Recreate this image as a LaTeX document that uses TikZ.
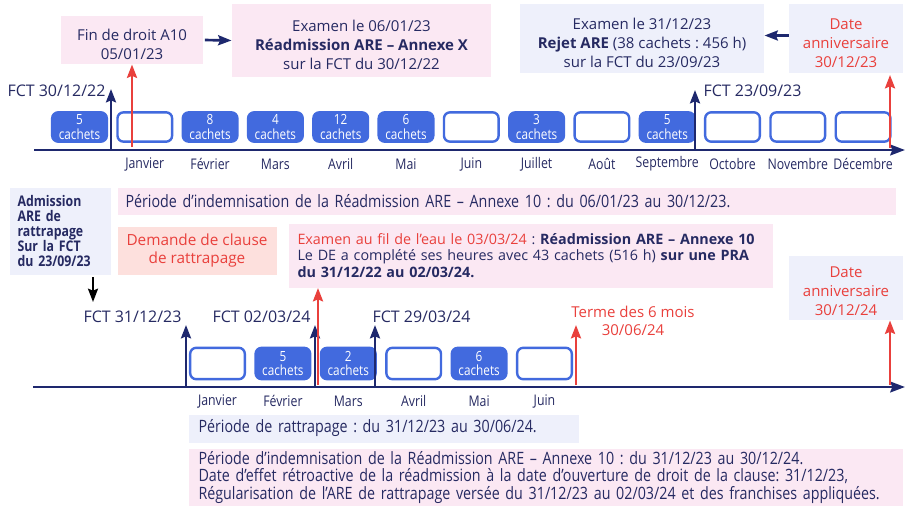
\documentclass[tikz,border=0pt]{standalone}
\usepackage{fontspec}
\setmainfont{Open Sans}
\newfontfamily\condfont{Open Sans}[FakeStretch=0.84]
\frenchspacing
\usetikzlibrary{arrows.meta}
\definecolor{txtnavy}{RGB}{38,42,98}
\definecolor{flechebleu}{RGB}{30,40,110}
\definecolor{boxblue}{RGB}{66,106,222}
\definecolor{fondrose}{RGB}{251,232,243}
\definecolor{fondlav}{RGB}{238,240,251}
\definecolor{rougec}{RGB}{233,64,60}
\definecolor{saumon}{RGB}{253,224,221}
\tikzset{every picture/.style={line width=0.75pt}}
\tikzset{
  cachet/.style={draw=boxblue, fill=boxblue, line width=1.8pt, rounded corners=4.5pt,
    minimum width=41pt, minimum height=22pt, inner sep=0pt, align=center, text=white,
    font=\condfont\fontsize{10.5}{11}\selectfont},
  vide/.style={cachet, fill=white},
  mois/.style={text=txtnavy, inner sep=0.75pt, font=\condfont\fontsize{11}{12}\selectfont},
  fct/.style={text=txtnavy, inner sep=0.75pt, font=\fontsize{12}{13}\selectfont},
  cadre/.style={inner sep=0pt, align=center, text=txtnavy, font=\fontsize{11.25}{14.25}\selectfont},
  boiterose/.style={cadre, fill=fondrose},
  boitelav/.style={cadre, fill=fondlav},
  bandeau/.style={inner ysep=0pt, align=left, text=txtnavy, font=\condfont\fontsize{12.75}{13.25}\selectfont},
  fleche/.style={draw=flechebleu, line width=2pt, -{Stealth[length=10pt,width=7.5pt,inset=1.5pt]}},
  flecherouge/.style={fleche, draw=rougec},
  flechenoire/.style={fleche, draw=black, line width=1.6pt},
  axe/.style={draw=flechebleu, line width=2.2pt, -{Stealth[length=11pt,width=8pt,inset=1.5pt]}}
}
\begin{document}
\begin{tikzpicture}[x=0.75pt,y=0.75pt,yscale=-1,xscale=1]
\useasboundingbox (0,0) rectangle (906,506);

%Straight Lines: axe 2023
\coordinate (axA0) at (34,150);
\coordinate (axA1) at (905,150);
\draw [axe] (axA0) -- (axA1);

%Shape: mois 2023
\node [cachet] (a0) at (79.5,127) {5\\cachets};
\node [vide] (a1) at (144.8,127) {};
\node [cachet] (a2) at (210.1,127) {8\\cachets};
\node [cachet] (a3) at (275.4,127) {4\\cachets};
\node [cachet] (a4) at (340.7,127) {12\\cachets};
\node [cachet] (a5) at (406,127) {6\\cachets};
\node [vide] (a6) at (471.3,127) {};
\node [cachet] (a7) at (536.6,127) {3\\cachets};
\node [vide] (a8) at (601.9,127) {};
\node [cachet] (a9) at (667.2,127) {5\\cachets};
\node [vide] (a10) at (732.5,127) {};
\node [vide] (a11) at (797.8,127) {};
\node [vide] (a12) at (863.1,127) {};

% Text Node: mois 2023
\node [mois] (la1) at (144.8,164) {Janvier};
\node [mois] (la2) at (210.1,164) {Février};
\node [mois] (la3) at (275.4,164) {Mars};
\node [mois] (la4) at (340.7,164) {Avril};
\node [mois] (la5) at (406,164) {Mai};
\node [mois] (la6) at (471.3,164) {Juin};
\node [mois] (la7) at (536.6,164) {Juillet};
\node [mois] (la8) at (601.9,164) {Août};
\node [mois] (la9) at (667.2,164) {Septembre};
\node [mois] (la10) at (732.5,164) {Octobre};
\node [mois] (la11) at (797.8,164) {Novembre};
\node [mois] (la12) at (863.1,164) {Décembre};

% Text Node: cadres du haut
\node [boiterose, minimum width=106.5pt, minimum height=36pt] (fin) at (132,40) {\rule{0pt}{15.5pt}Fin de droit A10\\05/01/23};
\node [boiterose, minimum width=194.25pt, minimum height=54.75pt] (exA) at (361.5,40.5) {\rule{0pt}{14.5pt}Examen le 06/01/23\\\textbf{Réadmission ARE – Annexe X}\\sur la FCT du 30/12/22};
\node [boitelav, minimum width=183pt, minimum height=51.75pt] (exB) at (642,38.5) {\rule{0pt}{15.5pt}Examen le 31/12/23\\\textbf{Rejet ARE} (38 cachets : 456 h)\\sur la FCT du 23/09/23};
\node [boitelav, text=rougec, minimum width=85.5pt, minimum height=51.75pt] (anA) at (846,38.5) {\rule{0pt}{15.5pt}Date\\anniversaire\\30/12/23};

%Straight Lines: fleches du haut
\draw [fleche, shorten <=1pt] (fin.east) -- (exA.west);
\draw [fleche] ([yshift=-2.25pt]anA.west) -- ([yshift=-2.25pt]exB.east);

\coordinate (fA0) at (111,150);
\coordinate (fA1) at (111,89);
\draw [fleche] (fA0) -- (fA1);
\node [fct, anchor=base east] (fctA) at (107,97) {FCT 30/12/22};

\coordinate (fB0) at (695,150);
\coordinate (fB1) at (695,90);
\draw [fleche] (fB0) -- (fB1);
\node [fct, anchor=base west] (fctB) at (702,97) {FCT 23/09/23};

\coordinate (rA0) at (132,147);
\draw [flecherouge] (rA0) -- (fin.south);
\coordinate (rB0) at (890,148);
\coordinate (rB1) at (890,75);
\draw [flecherouge] (rB0) -- (rB1);

% Text Node: cadres du milieu
\node [bandeau, fill=fondlav, font=\condfont\bfseries\fontsize{11}{11.25}\selectfont, inner xsep=6pt, text width=63.75pt, minimum height=65.25pt, anchor=north west] (adm) at (9,187) {Admission\\ARE de\\rattrapage\\Sur la FCT\\du 23/09/23};
\node [bandeau, fill=fondrose, inner xsep=6pt, text width=571.5pt, minimum height=20.25pt, anchor=north west] (perA) at (117,187) {Période d’indemnisation de la Réadmission ARE – Annexe 10 : du 06/01/23 au 30/12/23.};
\node [boiterose, fill=saumon, text=rougec, font=\fontsize{11.5}{13.5}\selectfont, minimum width=119.25pt, minimum height=36pt, anchor=north west] (clause) at (117,226) {Demande de clause\\de rattrapage};
\node [cadre, fill=fondrose, align=left, font=\fontsize{10.75}{12.5}\selectfont, inner xsep=6.75pt, text width=349.5pt, minimum height=48pt, anchor=north west] (exC) at (288,223) {\textcolor{rougec}{Examen au fil de l’eau le 03/03/24} : \textbf{Réadmission ARE – Annexe 10}\\Le DE a complété ses heures avec 43 cachets (516 h) \textbf{sur une PRA}\\\textbf{du 31/12/22 au 02/03/24.}};
\node [boitelav, text=rougec, minimum width=85.5pt, minimum height=48pt] (anB) at (846,288) {\rule{0pt}{13pt}Date\\anniversaire\\30/12/24};

\coordinate (adm1) at (93,302);
\draw [flechenoire, shorten <=1.5pt] (adm.south -| adm1) -- (adm1);

%Straight Lines: axe 2024
\coordinate (axB0) at (33,387);
\coordinate (axB1) at (905,387);
\draw [axe] (axB0) -- (axB1);

%Shape: mois 2024
\node [vide, minimum height=23.5pt] (b0) at (217.5,363.5) {};
\node [cachet, minimum height=23.5pt] (b1) at (282.9,363.5) {5\\cachets};
\node [cachet, minimum height=23.5pt] (b2) at (348.3,363.5) {2\\cachets};
\node [vide, minimum height=23.5pt] (b3) at (413.7,363.5) {};
\node [cachet, minimum height=23.5pt] (b4) at (479.1,363.5) {6\\cachets};
\node [vide, minimum height=23.5pt] (b5) at (544.5,363.5) {};

% Text Node: mois 2024
\node [mois] (lb0) at (217.5,401) {Janvier};
\node [mois] (lb1) at (282.9,401) {Février};
\node [mois] (lb2) at (348.3,401) {Mars};
\node [mois] (lb3) at (413.7,401) {Avril};
\node [mois] (lb4) at (479.1,401) {Mai};
\node [mois] (lb5) at (544.5,401) {Juin};

%Straight Lines: FCT 2024
\coordinate (fC0) at (186,387);
\coordinate (fC1) at (186,325);
\draw [fleche] (fC0) -- (fC1);
\node [fct, anchor=base east] (fctC) at (183,322) {FCT 31/12/23};

\coordinate (fD0) at (315,387);
\coordinate (fD1) at (315,325);
\draw [fleche] (fD0) -- (fD1);
\node [fct, anchor=base east] (fctD) at (312,322) {FCT 02/03/24};

\coordinate (fE0) at (375,387);
\coordinate (fE1) at (375,325);
\draw [fleche] (fE0) -- (fE1);
\node [fct, anchor=base west] (fctE) at (371,322) {FCT 29/03/24};

\coordinate (rC0) at (318,385);
\draw [flecherouge] (rC0) -- (rC0 |- exC.south);

\coordinate (rD0) at (576,385);
\coordinate (rD1) at (576,325);
\draw [flecherouge] (rD0) -- (rD1);
\node [cadre, text=rougec, font=\fontsize{11.25}{13.5}\selectfont] (terme) at (633,321) {Terme des 6 mois\\30/06/24};

\coordinate (rE0) at (890,385);
\draw [flecherouge] (rE0) -- (rE0 |- anB.south);

% Text Node: cadres du bas
\node [bandeau, fill=fondlav, inner xsep=7.5pt, text width=277.5pt, minimum height=21pt, anchor=north west] (rat) at (188,414) {Période de rattrapage : du 31/12/23 au 30/06/24.};
\node [bandeau, fill=fondrose, inner xsep=7.5pt, text width=520.5pt, minimum height=43.5pt, anchor=north west] (perB) at (188,448) {Période d’indemnisation de la Réadmission ARE – Annexe 10 : du 31/12/23 au 30/12/24.\\Date d’effet rétroactive de la réadmission à la date d’ouverture de droit de la clause: 31/12/23,\\Régularisation de l’ARE de rattrapage versée du 31/12/23 au 02/03/24 et des franchises appliquées.};

\end{tikzpicture}
\end{document}
